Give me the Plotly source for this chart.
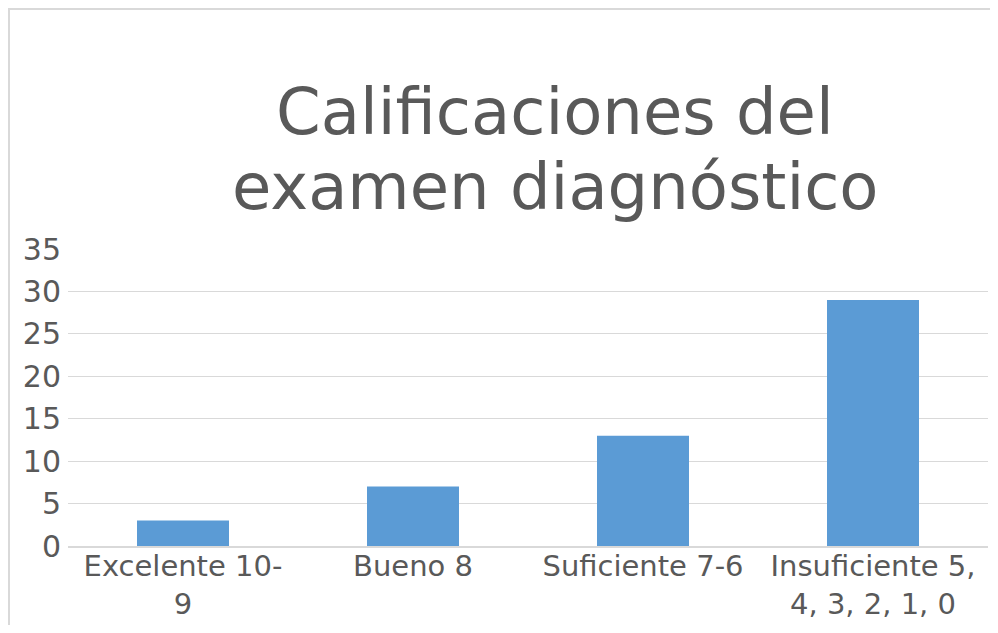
import plotly.graph_objects as go

categories = ["Excelente 10-<br>9", "Bueno 8", "Suficiente 7-6", "Insuficiente 5,<br>4, 3, 2, 1, 0"]
values = [3, 7, 13, 29]
y_ticks = [0, 5, 10, 15, 20, 25, 30, 35]
title_lines = ["Calificaciones del", "examen diagnóstico"]

OFF = 8  # page body margin
W, H = 998 - 2 * OFF, 633 - 2 * OFF
# target pixel positions in the screenshot
PL, PR, PT, PB = 68, 988, 249, 546
L, T = PL - OFF, PT - OFF
R = W - (PR - OFF)
B = H - (PB - OFF)
ph = H - T - B
pw = W - L - R

def py(p):
    return (PB - p) / ph

def px(p):
    return (p - PL) / pw

font = "DejaVu Sans"
grey = "#595959"

fig = go.Figure()
fig.add_trace(go.Bar(x=categories, y=values, marker=dict(color="#5b9bd5", line=dict(width=0)),
                     hoverinfo="x+y"))

fig.update_layout(
    width=W, height=H,
    margin=dict(l=L, r=R, t=T, b=B, autoexpand=False),
    paper_bgcolor="white", plot_bgcolor="white",
    bargap=0.6,
    showlegend=False,
    font=dict(family=font, color=grey, size=29),
    xaxis=dict(showgrid=False, showline=True, linecolor="#d9d9d9", linewidth=2, automargin=False,
               ticks="", ticklabelstandoff=-7, tickfont=dict(size=29, color=grey, family=font)),
    yaxis=dict(range=[0, 35], tickvals=y_ticks, showgrid=True, gridcolor="#d9d9d9", gridwidth=1,
               zeroline=False, showline=False, ticks="", ticklabelstandoff=6, automargin=False,
               tickfont=dict(size=30, color=grey, family=font)),
    shapes=[dict(type="rect", xref="paper", yref="paper",
                 x0=px(9), x1=px(1010), y0=py(660), y1=py(9),
                 line=dict(color="#d9d9d9", width=2), fillcolor="rgba(0,0,0,0)", layer="below")],
    annotations=[
        dict(text=title_lines[0], xref="paper", yref="paper", x=px(555), y=py(112),
             xanchor="center", yanchor="middle", showarrow=False,
             font=dict(size=64, color=grey, family=font)),
        dict(text=title_lines[1], xref="paper", yref="paper", x=px(555), y=py(187),
             xanchor="center", yanchor="middle", showarrow=False,
             font=dict(size=64, color=grey, family=font)),
    ],
)

fig.write_html("out.html")
